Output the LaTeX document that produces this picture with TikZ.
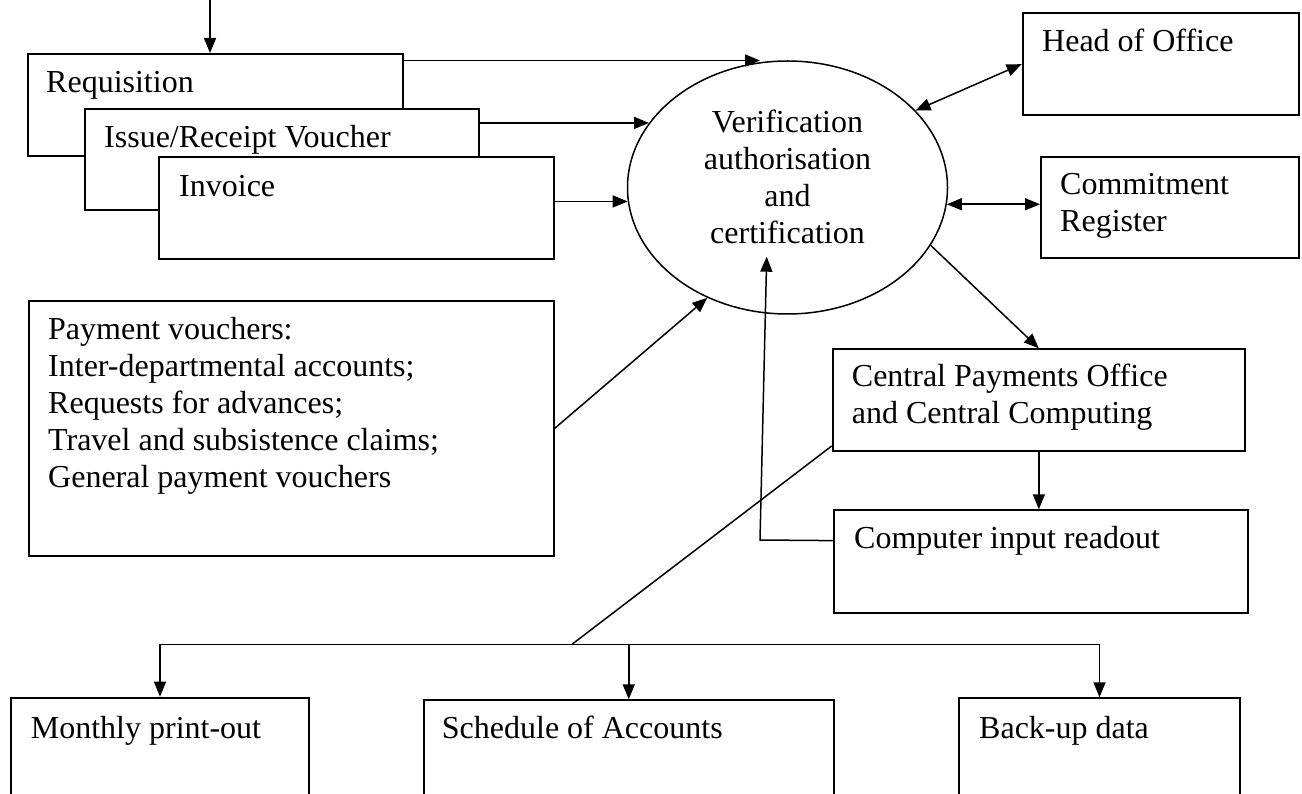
\documentclass[tikz,border=0pt]{standalone}
\usepackage{fontspec}
\setmainfont{Liberation Serif}
\usetikzlibrary{arrows.meta,calc,shapes.geometric}
\begin{document}
\begin{tikzpicture}[x=1pt,y=-1pt,
  box/.style={draw,line width=2pt,fill=white,inner sep=0pt,anchor=north west},
  lbl/.style={font=\fontsize{32}{37}\selectfont,inner sep=0pt,anchor=base west},
  clbl/.style={font=\fontsize{32}{37}\selectfont,inner sep=0pt,anchor=base},
  conn/.style={line width=1.5pt},
  arr/.style={conn,-{Triangle[length=15pt,width=12pt]}},
  dbl/.style={conn,{Triangle[length=15pt,width=12pt]}-{Triangle[length=15pt,width=12pt]}}]
\useasboundingbox (0,0) rectangle (1302,794);
\fill[white] (0,0) rectangle (1302,794);
\clip (0,0) rectangle (1302,794);
% boxes
\node[box,minimum width=375pt,minimum height=102pt] (req) at (26.7,53) {};
\node[box,minimum width=393.5pt,minimum height=101pt] (iss) at (84,108.3) {};
\node[box,minimum width=394.5pt,minimum height=102pt] (inv) at (158,155.7) {};
\node[box,minimum width=524.5pt,minimum height=255pt] (pay) at (28,300) {};
\node[box,minimum width=276.3pt,minimum height=101.7pt] (head) at (1021.7,12.3) {};
\node[box,minimum width=258pt,minimum height=101pt] (com) at (1040,156) {};
\node[box,minimum width=412.3pt,minimum height=101.7pt] (cen) at (831.7,348.3) {};
\node[box,minimum width=413.7pt,minimum height=102.4pt] (cmp) at (833,509.3) {};
\node[box,minimum width=298pt,minimum height=130pt] (mon) at (10,696.7) {};
\node[box,minimum width=410.5pt,minimum height=130pt] (sch) at (422.5,699.3) {};
\node[box,minimum width=281pt,minimum height=130pt] (bak) at (958,697.3) {};
\node[ellipse,draw,line width=1.5pt,minimum width=320pt,minimum height=253pt,inner sep=0pt] (ell) at (787.5,187.5) {};
% labels
\node[lbl] (req-t) at (46,93) {Requisition};
\node[lbl] (iss-t) at (104,148) {Issue/Receipt Voucher};
\node[lbl] (inv-t) at (179,197) {Invoice};
\node[lbl] (pay-t) at (48,340) {\begin{tabular}[t]{@{}l@{}}Payment vouchers:\\Inter-departmental accounts;\\Requests for advances;\\Travel and subsistence claims;\\General payment vouchers\end{tabular}};
\node[lbl] (head-t) at (1042,52) {Head of Office};
\node[lbl] (com-t) at (1060,195) {\begin{tabular}[t]{@{}l@{}}Commitment\\Register\end{tabular}};
\node[lbl] (cen-t) at (851.7,386.7) {\begin{tabular}[t]{@{}l@{}}Central Payments Office\\and Central Computing\end{tabular}};
\node[lbl] (cmp-t) at (854,548) {Computer input readout};
\node[lbl] (mon-t) at (30.7,738) {Monthly print-out};
\node[lbl] (sch-t) at (441.7,738) {Schedule of Accounts};
\node[lbl] (bak-t) at (979,738) {Back-up data};
\node[clbl] (ell-t) at (787.5,133) {\begin{tabular}[t]{@{}c@{}}Verification\\authorisation\\and\\certification\end{tabular}};
% connectors
\coordinate (topin) at (210,0);
\draw[arr] (topin) -- (topin |- req.north);
\coordinate (e1) at (760,60.5);
\draw[arr] (req.north east |- e1) -- (e1);
\draw[arr] (iss.east |- ell.155.8) -- (ell.155.8);
\draw[arr] (inv.east |- ell.185.9) -- (ell.185.9);
\draw[arr] (pay.east) -- (ell.234);
\draw[dbl] (ell.31.5) -- (head.west);
\draw[dbl] (ell.354.1) -- (com.west |- ell.354.1);
\draw[arr] (ell.-22) -- (cen.north);
\draw[arr] (cen.south) -- (cen.south |- cmp.north);
\coordinate (cmpl) at ($(cmp.north west)!0.3!(cmp.south west)$);
\coordinate (bend) at (760,540);
\coordinate (tipin) at (766.7,256.7);
\draw[arr] (cmpl) -- (bend) -- (tipin);
\coordinate (split) at (572,644.3);
\draw[conn] ($(cen.south west)+(0,-6)$) -- (split);
\draw[conn] (mon.north |- split) -- (bak.north |- split);
\draw[arr] (mon.north |- split) -- (mon.north);
\draw[arr] (sch.north |- split) -- (sch.north);
\draw[arr] (bak.north |- split) -- (bak.north);
\end{tikzpicture}
\end{document}
